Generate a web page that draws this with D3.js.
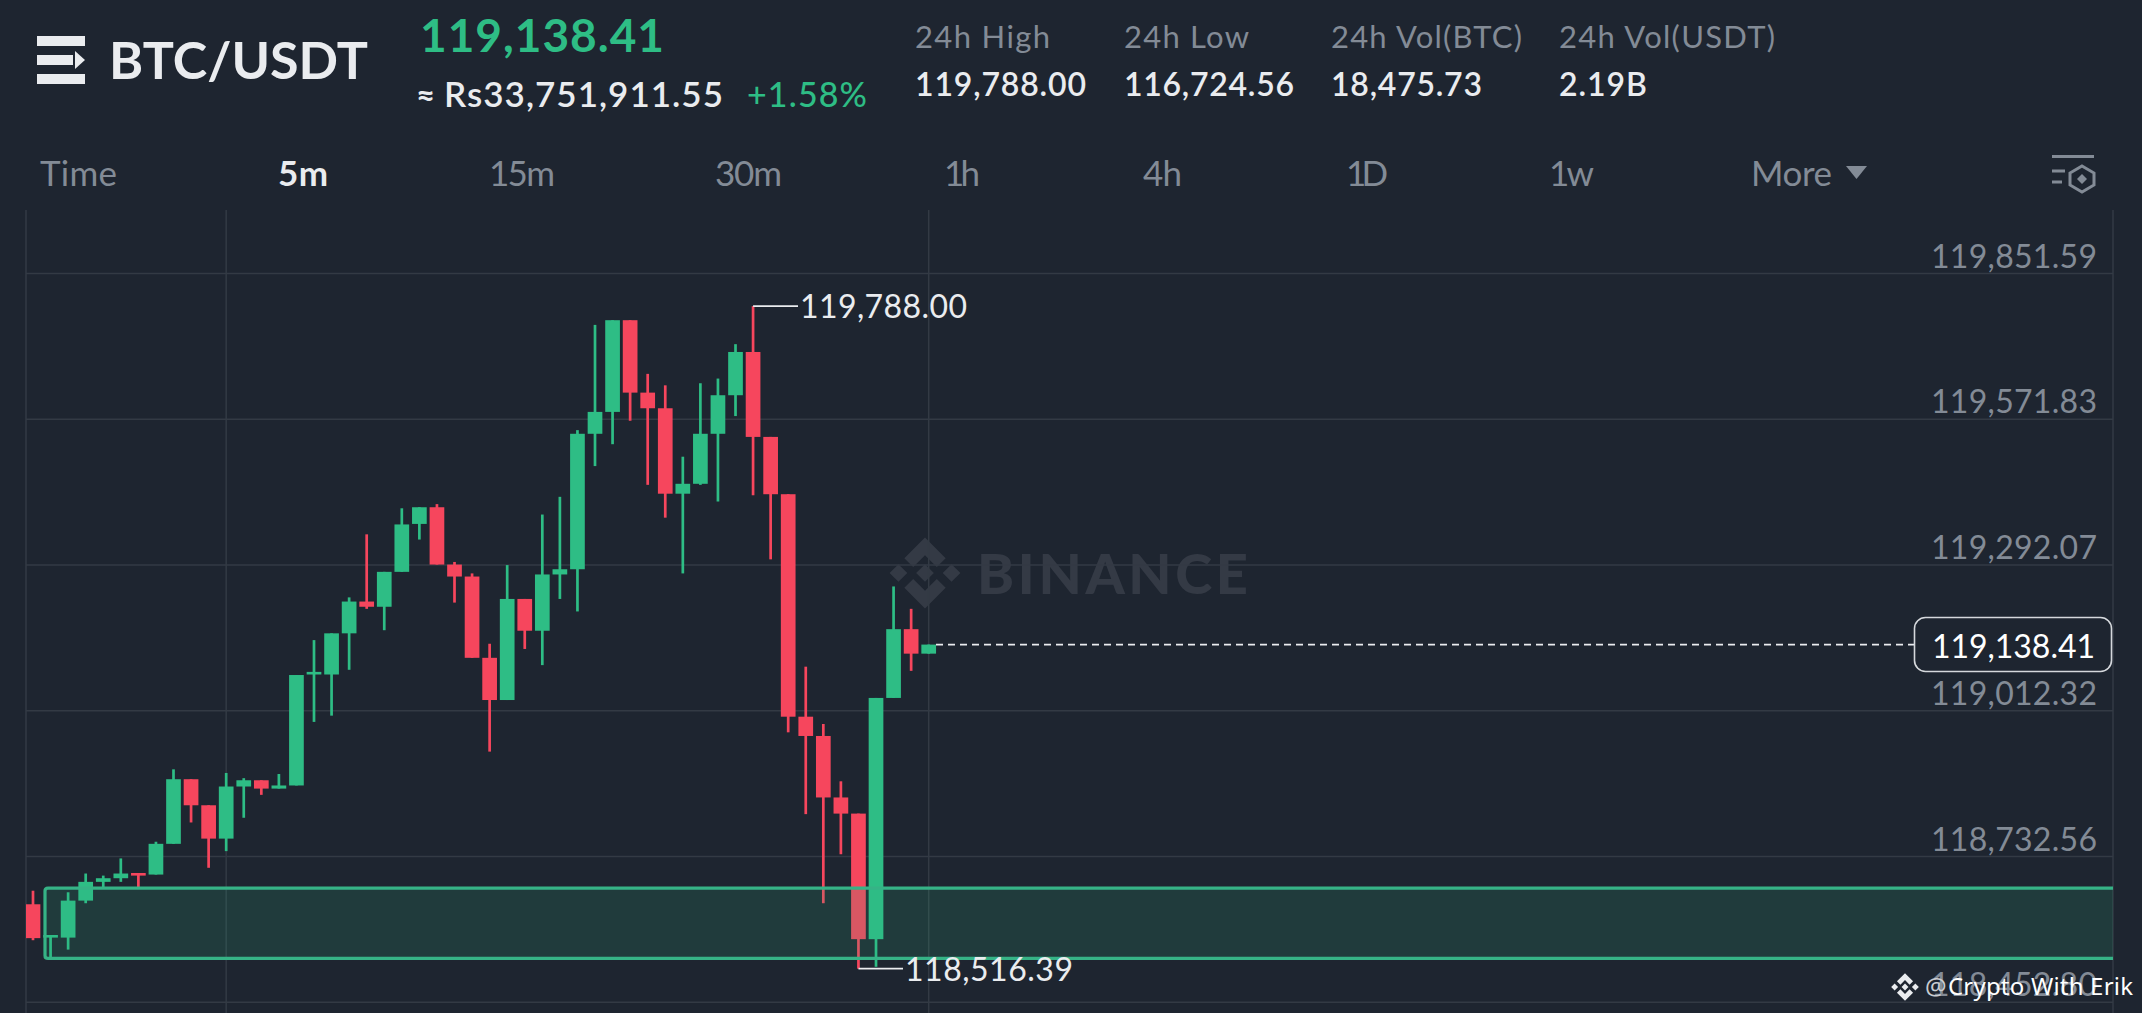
<!DOCTYPE html>
<html>
<head>
<meta charset="utf-8">
<title>BTC/USDT</title>
<script src="https://cdn.jsdelivr.net/npm/d3@7/dist/d3.min.js"></script>
<style>
html,body{margin:0;padding:0;background:#1e2530;overflow:hidden}
svg{display:block}
text{font-family:Lato,"Open Sans",sans-serif}
</style>
</head>
<body>
<svg id="c" width="2142" height="1013"></svg>
<script>
const opens  = [118640,118576,118576,118647,118683,118690,118700,118697,118756,118880,118830,118766,118866,118878,118862,118868,119081,119081,119160,119221,119211,119278,119370,119402,119292,119269,119113,119032,119226,119165,119273,119283,119543,119585,119761,119622,119592,119428,119447,119543,119617,119700,119537,119427,119000,118963,118845,118814,118573,119036,119168,119121];
const highs  = [118666,118581,118663,118699,118695,118728,118700,118760,118899,118880,118830,118892,118882,118878,118890,119080,119147,119160,119229,119350,119278,119400,119402,119408,119297,119275,119140,119291,119226,119388,119422,119550,119752,119761,119761,119658,119636,119499,119640,119649,119715,119788,119537,119427,119096,118986,118876,118814,119036,119250,119207,119138.41];
const lows   = [118571,118537,118553,118642,118671,118683,118671,118697,118756,118797,118710,118742,118806,118850,118862,118868,118990,119002,119090,119207,119166,119278,119340,119292,119219,119113,118933,119032,119130,119099,119226,119202,119481,119523,119568,119445,119382,119275,119445,119413,119577,119425,119302,118970,118813,118642,118736,118516.39,118520,119036,119088,119121];
const closes = [118575,118581,118647,118683,118690,118699,118695,118756,118880,118830,118766,118866,118878,118862,118868,119080,119086,119160,119221,119211,119278,119369,119402,119292,119269,119113,119032,119226,119165,119273,119283,119543,119585,119761,119622,119592,119428,119447,119543,119617,119700,119537,119427,119000,118963,118845,118814,118573,119036,119168,119121,119138.41];
const priceTicks = [119851.59,119571.83,119292.07,119012.32,118732.56,118452.80];
const verticalGridIndex = [11,51];
const zonePrices = [118536,118671];
const lastPrice = 119138.41;
const highPrice = 119788.00;
const lowPrice = 118516.39;
const highIndex = 41;
const lowIndex = 47;
const tabs = ["Time","5m","15m","30m","1h","4h","1D","1w","More"];
const statLabels = ["24h High","24h Low","24h Vol(BTC)","24h Vol(USDT)"];
const statValues = ["119,788.00","116,724.56","18,475.73","2.19B"];

const GREEN="#2ebd85", RED="#f6465d", BG="#1e2530", GRID="#333a44", DIM="#838b96", WHITE="#eaecef";
const svg=d3.select("#c");
const fmt=d3.format(",.2f");

const y=d3.scaleLinear().domain([118452.80,119851.59]).range([1001.8,273]);
const x=d3.scaleLinear().domain([0,51]).range([33,928.7]);
const L=26,R=2113,T=210,B=1013;

svg.append("rect").attr("width",2142).attr("height",1013).attr("fill",BG);

function txt(px,py,s,size,color,opts={}){
  const t=svg.append("text").attr("x",px).attr("y",py).text(s)
    .attr("font-size",size).attr("fill",color)
    .attr("font-weight",opts.w||400);
  if(opts.len) t.attr("textLength",opts.len).attr("lengthAdjust","spacing");
  if(opts.anchor) t.attr("text-anchor",opts.anchor);
  if(opts.font) t.style("font-family",opts.font);
  return t;
}

/* header */
const menu=svg.append("g").attr("fill",WHITE);
menu.append("rect").attr("x",37).attr("y",36).attr("width",48).attr("height",10);
menu.append("rect").attr("x",37).attr("y",55).attr("width",36).attr("height",10);
menu.append("path").attr("d","M75 51 L85 60 L75 69 Z");
menu.append("rect").attr("x",37).attr("y",74).attr("width",48).attr("height",10);
txt(109,79,"BTC/USDT",52,WHITE,{w:700,len:259});
txt(420,52,"119,138.41",46,GREEN,{w:700,len:244});
txt(416,107,"≈",33,WHITE,{w:700});
txt(444,107,"Rs33,751,911.55",35,WHITE,{w:600,len:279});
txt(747,107,"+1.58%",34,GREEN,{w:500,len:120});

const statX=[915,1124,1331,1559], statLabelLen=[135,125,191,216], statValueLen=[171,170,151,88];
statLabels.forEach((s,i)=>txt(statX[i],48,s,31,DIM,{len:statLabelLen[i]}));
statValues.forEach((s,i)=>txt(statX[i],96,s,32,WHITE,{w:600,len:statValueLen[i]}));

const tabX=[40,278,489,715,944,1143,1346,1549,1751], tabLen=[77,50,66,67,36,39,42,45,81];
tabs.forEach((s,i)=>txt(tabX[i],186,s,35,s==="5m"?WHITE:DIM,{w:s==="5m"?700:400,len:tabLen[i]}));
svg.append("path").attr("d","M1846 166 L1867 166 L1856.5 179 Z").attr("fill",DIM);
const ic=svg.append("g").attr("stroke",DIM).attr("fill","none").attr("stroke-width",3);
ic.append("path").attr("d","M2052 156.5 H2094 M2052 171 H2065 M2052 182 H2062");
ic.append("path").attr("d","M2082 166 L2094 173 V185 L2082 192 L2070 185 V173 Z");
ic.append("path").attr("d","M2082 174 L2087 179 L2082 184 L2077 179 Z").attr("fill",DIM).attr("stroke","none");

/* watermark */
const wm=svg.append("g").attr("fill","#343a45");
const logo=wm.append("g").attr("transform","translate(925,573) scale(2.95)");
logo.append("path").attr("d","M0 -12 L7 -5 L4 -2 L0 -6 L-4 -2 L-7 -5 Z");
logo.append("path").attr("d","M0 12 L7 5 L4 2 L0 6 L-4 2 L-7 5 Z");
logo.append("path").attr("d","M0 -3 L3 0 L0 3 L-3 0 Z");
logo.append("path").attr("d","M-9 -3 L-6 0 L-9 3 L-12 0 Z");
logo.append("path").attr("d","M9 -3 L12 0 L9 3 L6 0 Z");
wm.append("text").attr("x",977).attr("y",594).attr("font-size",56).attr("font-weight",900)
  .attr("textLength",271).attr("lengthAdjust","spacing").text("BINANCE");

/* grid and axis */
const frame=svg.append("g").attr("stroke",GRID).attr("stroke-width",1.5);
frame.append("line").attr("x1",L).attr("x2",L).attr("y1",T).attr("y2",B);
frame.append("line").attr("x1",R).attr("x2",R).attr("y1",T).attr("y2",B);
verticalGridIndex.forEach(i=>frame.append("line").attr("x1",x(i)).attr("x2",x(i)).attr("y1",T).attr("y2",B));

const axis=d3.axisRight(y).tickValues(priceTicks).tickSizeInner(-(R-L)).tickSizeOuter(0).tickFormat(fmt);
const ag=svg.append("g").attr("transform",`translate(${R},0)`).call(axis);
ag.select(".domain").remove();
ag.selectAll(".tick line").attr("stroke",GRID).attr("stroke-width",1.5);
ag.selectAll(".tick text").attr("x",-16).attr("dy",-6).attr("text-anchor","end")
  .attr("font-size",32).attr("fill",DIM).attr("font-family",null)
  .attr("textLength",166).attr("lengthAdjust","spacing");

/* candles */
const clip=svg.append("clipPath").attr("id","plot").append("rect")
  .attr("x",L).attr("y",T).attr("width",R-L).attr("height",B-T);
const idx=d3.range(opens.length);
const bw=14.7, ww=2.7;
const cg=svg.append("g").attr("clip-path","url(#plot)");
const col=i=>closes[i]>=opens[i]?GREEN:RED;
cg.selectAll("rect.w").data(idx).join("rect").attr("class","w")
  .attr("x",i=>x(i)-ww/2).attr("width",ww)
  .attr("y",i=>y(highs[i])).attr("height",i=>y(lows[i])-y(highs[i]))
  .attr("fill",col);
cg.selectAll("rect.b").data(idx).join("rect").attr("class","b")
  .attr("x",i=>x(i)-bw/2).attr("width",bw)
  .attr("y",i=>y(Math.max(opens[i],closes[i])))
  .attr("height",i=>Math.max(2.6,Math.abs(y(opens[i])-y(closes[i]))))
  .attr("fill",col);

/* zone */
const zx=45, zt=y(zonePrices[1]), zb=y(zonePrices[0]);
svg.append("rect").attr("x",zx).attr("y",zt).attr("width",R-zx).attr("height",zb-zt)
  .attr("fill",GREEN).attr("fill-opacity",0.15);
svg.append("path").attr("d",`M${R} ${zt} H${zx+3} Q${zx} ${zt} ${zx} ${zt+3} V${zb-3} Q${zx} ${zb} ${zx+3} ${zb} H${R}`)
  .attr("fill","none").attr("stroke","#36b386").attr("stroke-width",3.2);

/* last price */
svg.append("line").attr("x1",936).attr("x2",1914).attr("y1",y(lastPrice)).attr("y2",y(lastPrice))
  .attr("stroke",WHITE).attr("stroke-width",1.8).attr("stroke-dasharray","7 5");
svg.append("rect").attr("x",1914.5).attr("y",617.5).attr("width",197).attr("height",54).attr("rx",11)
  .attr("fill",BG).attr("stroke","#d5d8dc").attr("stroke-width",1.6);
txt(1932,658,fmt(lastPrice),32,"#ffffff",{len:163});

/* high / low annotations */
const ann=svg.append("g").attr("stroke",WHITE).attr("stroke-width",1.8).attr("fill","none");
ann.append("line").attr("x1",x(highIndex)).attr("x2",798).attr("y1",y(highPrice)).attr("y2",y(highPrice));
ann.append("line").attr("x1",x(lowIndex)).attr("x2",903).attr("y1",y(lowPrice)).attr("y2",y(lowPrice));
txt(800,318,fmt(highPrice),32,WHITE,{len:167});
txt(905,981,fmt(lowPrice),32,WHITE,{len:168});

/* credit */
const cr=svg.append("g").attr("transform","translate(1905,987) scale(1.15)").attr("fill",WHITE);
cr.append("path").attr("d","M0 -12 L7 -5 L4 -2 L0 -6 L-4 -2 L-7 -5 Z");
cr.append("path").attr("d","M0 12 L7 5 L4 2 L0 6 L-4 2 L-7 5 Z");
cr.append("path").attr("d","M0 -3 L3 0 L0 3 L-3 0 Z");
cr.append("path").attr("d","M-9 -3 L-6 0 L-9 3 L-12 0 Z");
cr.append("path").attr("d","M9 -3 L12 0 L9 3 L6 0 Z");
txt(1925,995,"@",24,"#c9ccd1",{font:'"Noto Sans"',len:19});
txt(1948,995,"Crypto With Erik",24,"#ffffff",{font:'"Noto Sans"',len:185});
</script>
</body>
</html>
